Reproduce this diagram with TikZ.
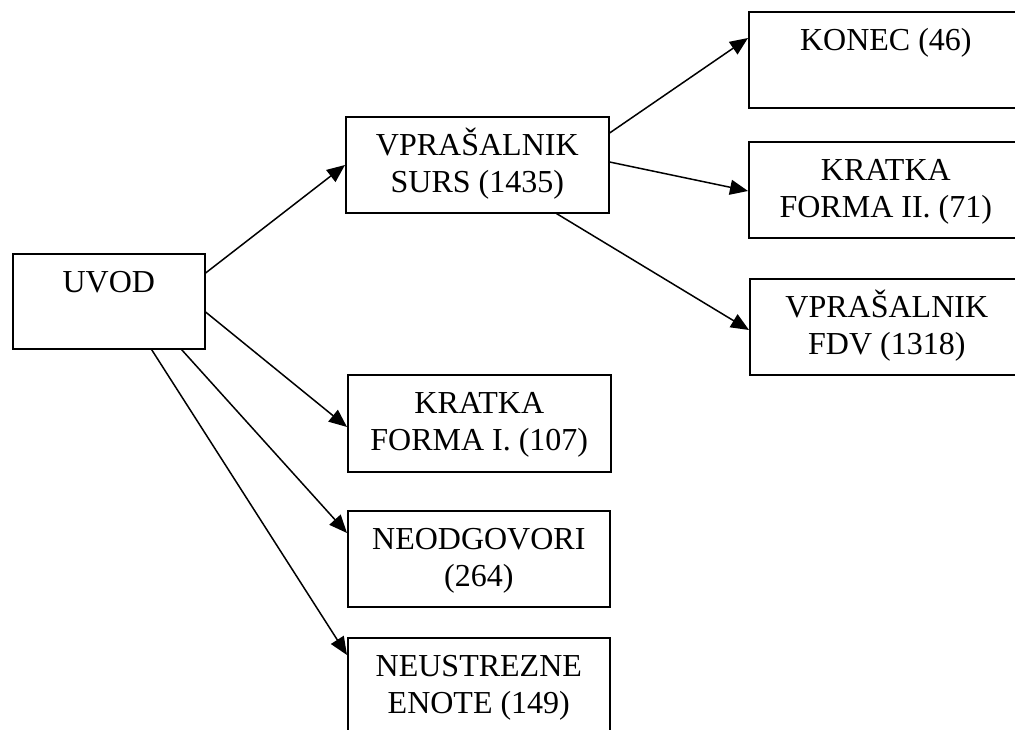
\documentclass[tikz,border=0pt]{standalone}
\usepackage{fontspec}
\setmainfont{Liberation Serif}
\usetikzlibrary{arrows.meta}
\newcommand{\firstln}{\rule{0pt}{30pt}}
\begin{document}
\begin{tikzpicture}[x=1pt,y=-1pt,
 box/.style={draw, line width=1.6pt, inner sep=0pt, anchor=north west},
 txt/.style={anchor=north, inner sep=0pt, align=center, font=\fontsize{32}{37}\selectfont},
 conn/.style={line width=1.5pt, -{Triangle[length=18pt,width=15pt]}}]
\useasboundingbox (0,0) rectangle (1015,729);
\clip (0,0) rectangle (1015,729);
% boxes
\node[box, minimum width=192pt, minimum height=95pt] (uvod) at (12,253) {};
\node[box, minimum width=263pt, minimum height=96pt] (surs) at (345,116) {};
\node[box, minimum width=274pt, minimum height=96pt] (konec) at (748,11) {};
\node[box, minimum width=274pt, minimum height=96pt] (kf2) at (748,141) {};
\node[box, minimum width=274pt, minimum height=96pt] (fdv) at (749,278) {};
\node[box, minimum width=263pt, minimum height=97pt] (kf1) at (347,374) {};
\node[box, minimum width=262pt, minimum height=96pt] (neodg) at (347,510) {};
\node[box, minimum width=262pt, minimum height=120pt] (neus) at (347,637) {};
% texts
\node[txt] (uvodt) at ([yshift=-9pt]uvod.north) {\firstln UVOD};
\node[txt] (surst) at ([yshift=-9pt]surs.north) {\firstln VPRAŠALNIK\\SURS (1435)};
\node[txt] (konect) at ([yshift=-9pt]konec.north) {\firstln KONEC (46)};
\node[txt] (kf2t) at ([yshift=-9pt]kf2.north) {\firstln KRATKA\\FORMA II. (71)};
\node[txt] (fdvt) at ([yshift=-9pt]fdv.north) {\firstln VPRAŠALNIK\\FDV (1318)};
\node[txt] (kf1t) at ([yshift=-9pt]kf1.north) {\firstln KRATKA\\FORMA I. (107)};
\node[txt] (neodgt) at ([yshift=-9pt]neodg.north) {\firstln NEODGOVORI\\(264)};
\node[txt] (neust) at ([yshift=-9pt]neus.north) {\firstln NEUSTREZNE\\ENOTE (149)};
% connectors
\draw[conn] ([yshift=-20pt]uvod.north east) -- ([yshift=-49pt]surs.north west);
\draw[conn] ([yshift=-59pt]uvod.north east) -- ([yshift=-53pt]kf1.north west);
\draw[conn] ([xshift=-24pt]uvod.south east) -- ([yshift=-23pt]neodg.north west);
\draw[conn] ([xshift=-54pt]uvod.south east) -- ([yshift=-18pt]neus.north west);
\draw[conn] ([yshift=-17pt]surs.north east) -- ([yshift=-27pt]konec.north west);
\draw[conn] ([yshift=-46pt]surs.north east) -- ([yshift=-50pt]kf2.north west);
\draw[conn] ([xshift=-53pt]surs.south east) -- ([yshift=-52pt]fdv.north west);
\end{tikzpicture}
\end{document}
